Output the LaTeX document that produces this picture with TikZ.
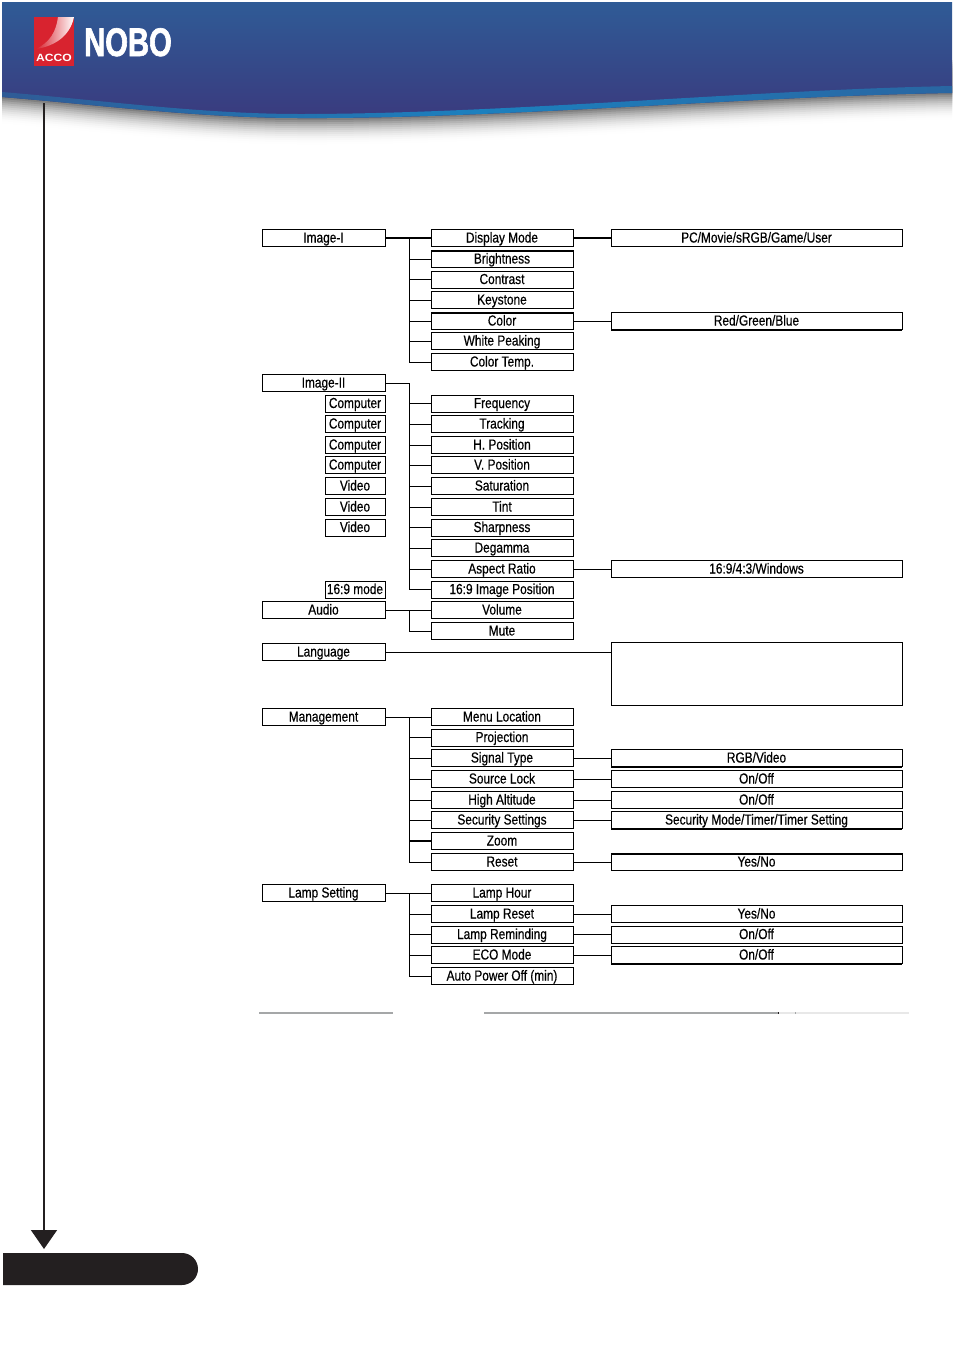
\documentclass[tikz,border=0pt]{standalone}
\usepackage{fontspec}
\setmainfont[FakeStretch=0.82,FakeBold=0.5]{Liberation Sans}
\newfontfamily\logofont[FakeStretch=0.73,FakeBold=1.5]{Liberation Sans}
\newfontfamily\accofont[FakeStretch=1.15]{Liberation Sans}
\usetikzlibrary{arrows.meta}
\definecolor{bandtop}{HTML}{2F5B96}
\definecolor{bandlow}{HTML}{3A3A7E}
\definecolor{stripblue}{HTML}{1C80BE}
\definecolor{acred}{HTML}{D8232F}
\definecolor{inkblack}{HTML}{231F20}
\definecolor{rulegray}{HTML}{A5A7A8}
\definecolor{rulelight}{HTML}{E8E8E8}
\tikzset{
    menubox/.style={draw, fill=white, line width=1pt, inner sep=0pt, outer sep=0pt, minimum height=17pt, text height=9pt, text depth=0pt, font=\fontsize{14.5}{16}\selectfont},
    topbox/.style={menubox, minimum width=123pt},
    subbox/.style={menubox, minimum width=60pt},
    midbox/.style={menubox, minimum width=142pt},
    valbox/.style={menubox, minimum width=291pt},
    link/.style={line width=1pt},
    heavylink/.style={line width=2pt}
}
\begin{document}
\begin{tikzpicture}[x=1pt,y=-1pt]
            \useasboundingbox (0,0) rectangle (954,1350);
            \foreach \d in {28,26,...,0} {
                \pgfmathsetmacro{\g}{58*(1-\d/28)*(1-\d/28)}
                \fill[black!\g!white, shift={(0,\d)}]
                    (2,60) -- (952,60) -- (952,93) .. controls (750,96) and (500,119) .. (300,118) .. controls (200,118) and (100,105) .. (2,97) -- cycle;
            }
            \shade[top color=bandtop, bottom color=bandlow, draw=none]
                (2,2) -- (952,2) -- (952,93) .. controls (750,96) and (500,119) .. (300,118) .. controls (200,118) and (100,105) .. (2,97) -- cycle;
            \shade[left color=bandtop, right color=bandtop!70!stripblue, middle color=stripblue, draw=none]
                (2,92) .. controls (100,100) and (200,114) .. (300,114) .. controls (500,114) and (750,90) .. (952,86)
                -- (952,93) .. controls (750,96) and (500,119) .. (300,118) .. controls (200,118) and (100,105) .. (2,97) -- cycle;
            \fill[acred] (34,17) rectangle (74,66);
            \shade[left color=acred, right color=white, draw=none]
                (58,17) .. controls (56,32) and (50,42) .. (36,49) .. controls (55,46) and (70,36) .. (74,17) -- cycle;
            \node[text=white, font=\accofont\bfseries\fontsize{10.5}{11}\selectfont, inner sep=0pt] (acco) at (54,58) {ACCO};
            \node[text=white, font=\logofont\bfseries\fontsize{40}{40}\selectfont, inner sep=0pt, text height=29pt, text depth=0pt] (nobo) at (128,41.5) {NOBO};

            \coordinate (arrowtop) at (44,103);
            \coordinate (arrowtip) at (44,1249);
            \draw[line width=1.6pt, draw=inkblack, -{Triangle[width=26pt,length=19pt]}] (arrowtop) -- (arrowtip);
            \fill[inkblack] (3,1253) -- (182,1253) arc (-90:90:16) -- (3,1285) -- cycle;

            \node[topbox] (image1) at (323.5,238) {Image-I};
            \node[midbox] (dispmode) at (502,238) {Display Mode};
            \node[midbox] (bright) at (502,259) {Brightness};
            \node[midbox] (contrast) at (502,279.5) {Contrast};
            \node[midbox] (keystone) at (502,300) {Keystone};
            \node[midbox] (color) at (502,321) {Color};
            \node[midbox] (white) at (502,341) {White Peaking};
            \node[midbox] (colortemp) at (502,362) {Color Temp.};
            \node[valbox] (dispval) at (756.5,238) {PC/Movie/sRGB/Game/User};
            \node[valbox] (colorval) at (756.5,321) {Red/Green/Blue};

            \node[topbox] (image2) at (323.5,383) {Image-II};
            \node[subbox] (comp1) at (355,403.5) {Computer};
            \node[subbox] (comp2) at (355,424) {Computer};
            \node[subbox] (comp3) at (355,445) {Computer};
            \node[subbox] (comp4) at (355,465) {Computer};
            \node[subbox] (video1) at (355,486) {Video};
            \node[subbox] (video2) at (355,507) {Video};
            \node[subbox] (video3) at (355,527.5) {Video};
            \node[subbox] (mode169) at (355,589.5) {16:9 mode};
            \node[midbox] (freq) at (502,403.5) {Frequency};
            \node[midbox] (track) at (502,424) {Tracking};
            \node[midbox] (hpos) at (502,445) {H. Position};
            \node[midbox] (vpos) at (502,465) {V. Position};
            \node[midbox] (satur) at (502,486) {Saturation};
            \node[midbox] (tint) at (502,507) {Tint};
            \node[midbox] (sharp) at (502,527.5) {Sharpness};
            \node[midbox] (degamma) at (502,548) {Degamma};
            \node[midbox] (aspect) at (502,569) {Aspect Ratio};
            \node[midbox] (imgpos) at (502,589.5) {16:9 Image Position};
            \node[valbox] (aspectval) at (756.5,569) {16:9/4:3/Windows};

            \node[topbox] (audio) at (323.5,610) {Audio};
            \node[midbox] (volume) at (502,610) {Volume};
            \node[midbox] (mute) at (502,631) {Mute};

            \node[topbox] (language) at (323.5,652) {Language};
            \node[valbox, minimum height=63pt, text height=0pt] (langval) at (756.5,673.5) {};

            \node[topbox] (manage) at (323.5,717) {Management};
            \node[midbox] (menuloc) at (502,717) {Menu Location};
            \node[midbox] (project) at (502,737.5) {Projection};
            \node[midbox] (signal) at (502,758) {Signal Type};
            \node[midbox] (source) at (502,779) {Source Lock};
            \node[midbox] (altitude) at (502,800) {High Altitude};
            \node[midbox] (security) at (502,820) {Security Settings};
            \node[midbox] (zoom) at (502,841) {Zoom};
            \node[midbox] (reset) at (502,862) {Reset};
            \node[valbox] (signalval) at (756.5,758) {RGB/Video};
            \node[valbox] (sourceval) at (756.5,779) {On/Off};
            \node[valbox] (altval) at (756.5,800) {On/Off};
            \node[valbox] (secval) at (756.5,820) {Security Mode/Timer/Timer Setting};
            \node[valbox] (resetval) at (756.5,862) {Yes/No};

            \node[topbox] (lamp) at (323.5,893) {Lamp Setting};
            \node[midbox] (lamphour) at (502,893) {Lamp Hour};
            \node[midbox] (lampreset) at (502,914) {Lamp Reset};
            \node[midbox] (remind) at (502,934.5) {Lamp Reminding};
            \node[midbox] (eco) at (502,955) {ECO Mode};
            \node[midbox] (autooff) at (502,976) {Auto Power Off (min)};
            \node[valbox] (lampval) at (756.5,914) {Yes/No};
            \node[valbox] (remindval) at (756.5,934.5) {On/Off};
            \node[valbox] (ecoval) at (756.5,955) {On/Off};

            \draw[heavylink] (bright.north west) -- (bright.north east);
            \draw[heavylink] (color.north west) -- (color.north east);
            \draw[heavylink] (colorval.south west) -- (colorval.south east);
            \draw[heavylink] (signalval.south west) -- (signalval.south east);
            \draw[heavylink] (secval.south west) -- (secval.south east);
            \draw[heavylink] (resetval.north west) -- (resetval.north east);
            \draw[heavylink] (ecoval.south west) -- (ecoval.south east);

            \coordinate (trunk1) at (409,238);
            \coordinate (trunk2) at (409,383);
            \coordinate (trunk3) at (409,610);
            \coordinate (trunk4) at (409,717);
            \coordinate (trunk5) at (409,893);
            \coordinate (langend) at (611,652);

            \draw[heavylink] (image1) -- (dispmode);
            \draw[heavylink] (dispmode) -- (dispval);
            \draw[link] (color) -- (colorval);
            \draw[link] (trunk1) |- (colortemp.west);
            \draw[link] (trunk1 |- bright) -- (bright);
            \draw[link] (trunk1 |- contrast) -- (contrast);
            \draw[link] (trunk1 |- keystone) -- (keystone);
            \draw[link] (trunk1 |- color) -- (color);
            \draw[link] (trunk1 |- white) -- (white);

            \draw[link] (image2) -- (trunk2) |- (imgpos.west);
            \draw[link] (trunk2 |- freq) -- (freq);
            \draw[link] (trunk2 |- track) -- (track);
            \draw[link] (trunk2 |- hpos) -- (hpos);
            \draw[link] (trunk2 |- vpos) -- (vpos);
            \draw[link] (trunk2 |- satur) -- (satur);
            \draw[link] (trunk2 |- tint) -- (tint);
            \draw[link] (trunk2 |- sharp) -- (sharp);
            \draw[link] (trunk2 |- degamma) -- (degamma);
            \draw[link] (trunk2 |- aspect) -- (aspect);
            \draw[link] (aspect) -- (aspectval);

            \draw[link] (audio) -- (volume);
            \draw[link] (trunk3) |- (mute.west);
            \draw[link] (language.east |- langend) -- (langend);

            \draw[link] (manage) -- (menuloc);
            \draw[link] (trunk4) |- (reset.west);
            \draw[link] (trunk4 |- project) -- (project);
            \draw[link] (trunk4 |- signal) -- (signal);
            \draw[link] (trunk4 |- source) -- (source);
            \draw[link] (trunk4 |- altitude) -- (altitude);
            \draw[link] (trunk4 |- security) -- (security);
            \draw[heavylink] (trunk4 |- zoom) -- (zoom);
            \draw[link] (signal) -- (signalval);
            \draw[link] (source) -- (sourceval);
            \draw[link] (altitude) -- (altval);
            \draw[link] (security) -- (secval);
            \draw[link] (reset) -- (resetval);

            \draw[link] (lamp) -- (lamphour);
            \draw[link] (trunk5) |- (autooff.west);
            \draw[link] (trunk5 |- lampreset) -- (lampreset);
            \draw[link] (trunk5 |- remind) -- (remind);
            \draw[link] (trunk5 |- eco) -- (eco);
            \draw[link] (lampreset) -- (lampval);
            \draw[link] (remind) -- (remindval);
            \draw[link] (eco) -- (ecoval);

            \fill[rulegray] (259,1012) rectangle (393,1014);
            \fill[rulegray] (484,1012) rectangle (778,1014);
            \fill[rulelight] (778,1012) rectangle (909,1014);
            \draw[line width=0.6pt, draw=inkblack] (778,1012) -- (778,1014);
            \draw[line width=0.6pt, draw=rulegray] (795,1012) -- (795,1014);
        \end{tikzpicture}
\end{document}
